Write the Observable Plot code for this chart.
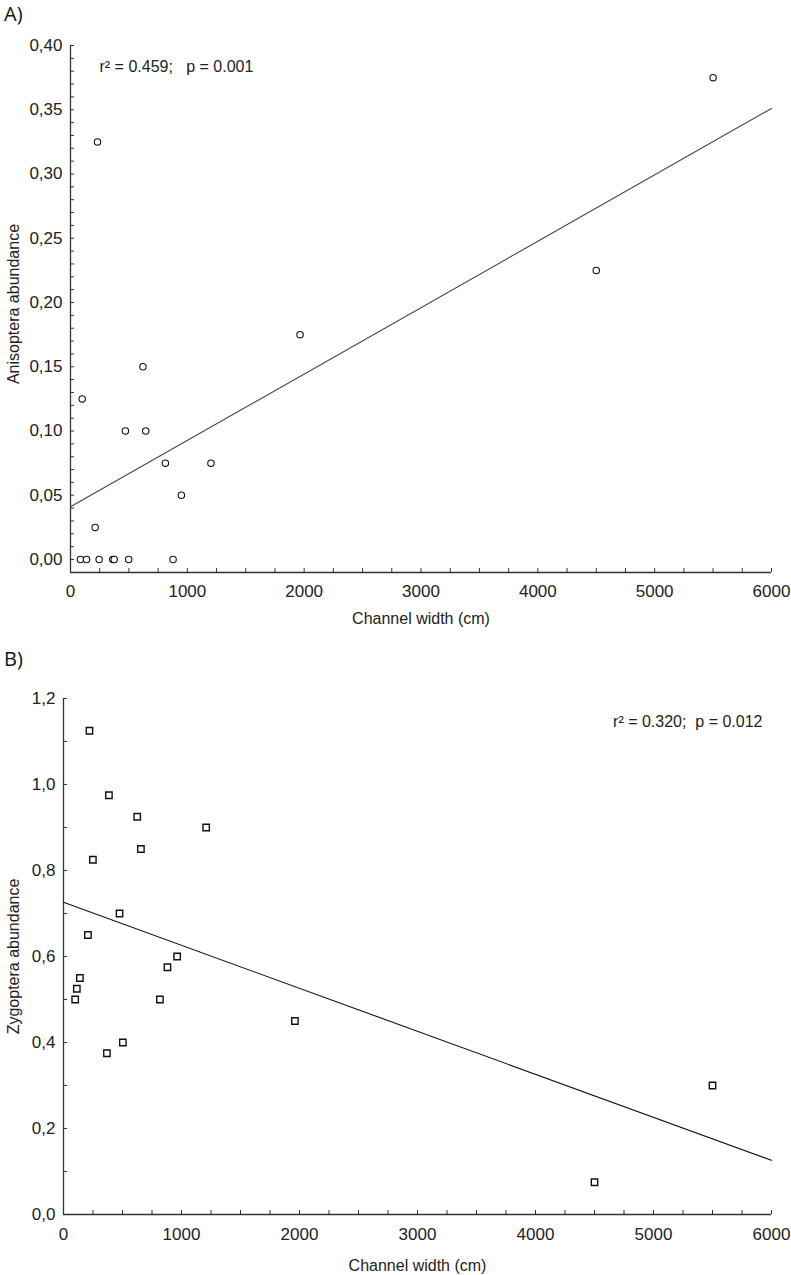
<!DOCTYPE html>
<html><head><meta charset="utf-8">
<script src="https://cdn.jsdelivr.net/npm/d3@7"></script>
<script src="https://cdn.jsdelivr.net/npm/@observablehq/plot@0.6"></script>
<style>
body{margin:0;background:#fff;font-family:"Liberation Sans",Arial,sans-serif;}
#wrap{position:relative;width:791px;height:1275px;overflow:hidden;}
.panel-title{position:absolute;left:4px;font-size:20px;color:#111;line-height:1.36;font-family:"Open Sans","Liberation Sans",sans-serif;}
</style></head><body>
<div id="wrap">
<div id="A" style="position:absolute;left:0;top:0"></div>
<div id="B" style="position:absolute;left:0;top:632px"></div>
<div class="panel-title" style="top:0px">A)</div>
<div class="panel-title" style="top:645px">B)</div>
</div>
<script>
// ---- data ----
const widthA = [85, 137, 245, 362, 374, 498, 878, 100, 211, 231, 470, 620, 644, 812, 949, 1202, 1965, 4500, 5500];
const anisoptera = [0, 0, 0, 0, 0, 0, 0, 0.125, 0.025, 0.325, 0.10, 0.15, 0.10, 0.075, 0.05, 0.075, 0.175, 0.225, 0.375];
const widthB = [99, 113, 139, 207, 220, 249, 368, 385, 475, 503, 625, 656, 817, 881, 963, 1209, 1961, 4500, 5500];
const zygoptera = [0.5, 0.525, 0.55, 0.65, 1.125, 0.825, 0.375, 0.975, 0.7, 0.4, 0.925, 0.85, 0.5, 0.575, 0.6, 0.9, 0.45, 0.075, 0.3];
const fitXA = [0, 6000];
const fitYA = [0.041, 0.351];
const fitXB = [0, 6000];
const fitYB = [0.726, 0.126];
const xMajor = [0, 1000, 2000, 3000, 4000, 5000, 6000];
const xMinor = d3.range(0, 6001, 250);
const yMajorA = [0, 0.05, 0.10, 0.15, 0.20, 0.25, 0.30, 0.35, 0.40];
const yMinorA = d3.range(0, 41).map(i => i / 100);
const yMajorB = [0, 0.2, 0.4, 0.6, 0.8, 1.0, 1.2];
const yMinorB = d3.range(0, 13).map(i => i / 10);
const statA = "r² = 0.459;\u00a0\u00a0 p = 0.001";
const statB = "r² = 0.320;\u00a0 p = 0.012";
const xLabel = "Channel width (cm)";
const yLabelA = "Anisoptera abundance";
const yLabelB = "Zygoptera abundance";

const comma = f => d => d3.format(f)(d).replace(".", ",");

function panel(o) {
  const frameW = 791 - o.ml - o.mr;
  const frameH = o.height - o.mt - o.mb;
  const pts = o.xs.map((x, i) => ({x, y: o.ys[i]}));
  const fit = o.fx.map((x, i) => ({x, y: o.fy[i]}));
  return Plot.plot({
    width: 791, height: o.height,
    marginLeft: o.ml, marginRight: o.mr, marginTop: o.mt, marginBottom: o.mb,
    x: {domain: [0, 6000]},
    y: {domain: o.yDomain},
    style: {fontFamily: "'Liberation Sans', Arial, sans-serif", fontSize: "17px", color: "#222", background: "white"},
    marks: [
      Plot.axisX({ticks: xMajor, tickSize: 0, tickPadding: o.xPad, tickFormat: d3.format("d"), label: null, fill: "#222"}),
      Plot.axisY({ticks: o.yMajor, tickSize: 0, tickPadding: 8, tickFormat: o.fmt, label: null, fill: "#222"}),
      Plot.ruleX(xMinor, {insetTop: frameH - 4, stroke: "#333", strokeWidth: 1}),
      Plot.ruleY(o.yMinor, {insetRight: frameW - 4, stroke: "#333", strokeWidth: 1}),
      Plot.ruleY([o.yDomain[0]], {stroke: "#333", strokeWidth: 1.3}),
      Plot.ruleX([0], {stroke: "#333", strokeWidth: 1.3}),
      Plot.line(fit, {x: "x", y: "y", stroke: o.lineStroke, strokeWidth: 1.1}),
      Plot.dot(pts, {x: "x", y: "y", symbol: o.symbol, r: o.r, stroke: "#111", fill: "white", strokeWidth: o.sw}),
      Plot.text([o.stat], {text: d => d, frameAnchor: o.statAnchor, textAnchor: o.statTA, lineAnchor: "middle", dx: o.statDx, dy: o.statDy, fontSize: 16, fill: "#222"}),
      Plot.text([xLabel], {text: d => d, frameAnchor: "bottom", textAnchor: "middle", lineAnchor: "middle", dy: o.xlDy, fontSize: 16, fill: "#222"}),
      Plot.text([o.yLabel], {text: d => d, frameAnchor: "left", rotate: -90, textAnchor: "middle", lineAnchor: "middle", dx: o.ylDx, dy: o.ylDy, fontSize: 16, fill: "#222"})
    ]
  });
}

document.getElementById("A").append(panel({
  height: 632, ml: 70, mr: 20, mt: 45, mb: 60,
  yDomain: [-0.0101, 0.40], yMajor: yMajorA, yMinor: yMinorA, fmt: comma(".2f"),
  xs: widthA, ys: anisoptera, fx: fitXA, fy: fitYA,
  symbol: "circle", r: 3.2, sw: 1.1, lineStroke: "#444",
  stat: statA, statAnchor: "top-left", statTA: "start", statDx: 29, statDy: 21,
  xPad: 12, xlDy: 46, yLabel: yLabelA, ylDx: -57, ylDy: -5
}));

document.getElementById("B").append(panel({
  height: 643, ml: 63, mr: 20, mt: 66, mb: 61,
  yDomain: [0, 1.2], yMajor: yMajorB, yMinor: yMinorB, fmt: comma(".1f"),
  xs: widthB, ys: zygoptera, fx: fitXB, fy: fitYB,
  symbol: "square", r: 3.6, sw: 1.4, lineStroke: "#111",
  stat: statB, statAnchor: "top-right", statTA: "end", statDx: -9, statDy: 23,
  xPad: 13, xlDy: 51, yLabel: yLabelB, ylDx: -50, ylDy: 0
}));
</script>
</body></html>
